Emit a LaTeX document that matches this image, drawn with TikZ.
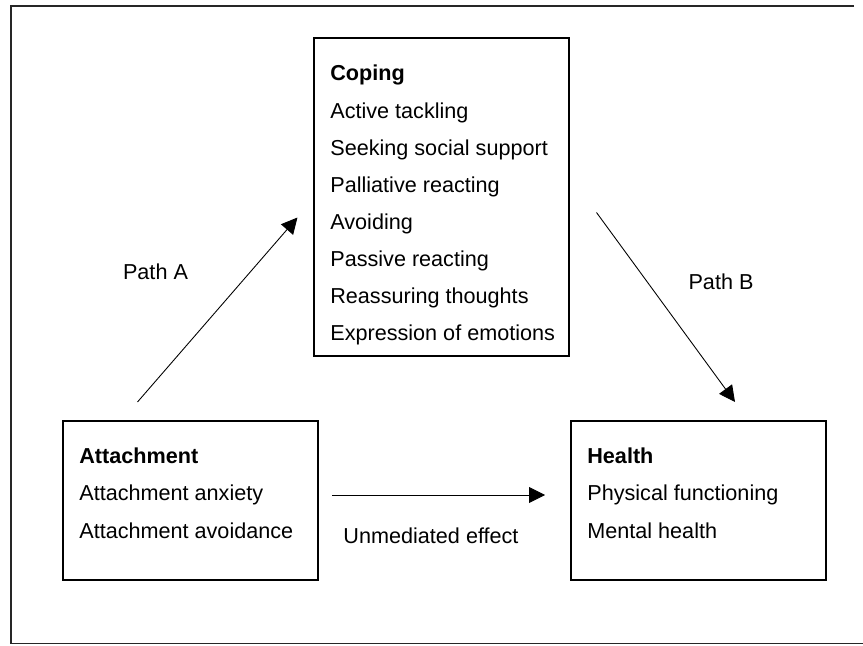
\documentclass[tikz,border=0pt]{standalone}
\usepackage{fontspec}
\setmainfont{Liberation Sans}
\usetikzlibrary{arrows.meta}

\tikzset{
  box/.style={draw, line width=0.6pt, minimum width=5.1cm, inner sep=0pt},
  item/.style={anchor=base west, inner sep=0pt, font=\fontsize{12.3}{14}\selectfont},
  head/.style={item, font=\fontsize{12.3}{14}\selectfont\bfseries},
  label/.style={anchor=base, inner sep=0pt, font=\fontsize{12.3}{14}\selectfont},
  effect/.style={-{Triangle[length=3.2mm,width=3.2mm]}, line width=0.5pt},
}

\begin{document}
\begin{tikzpicture}
  \useasboundingbox (0,0) rectangle (17.26,12.9);
  % frame (open on the right)
  \draw[line width=0.8pt, black!85] (17.08,12.78) -- (0.22,12.78) -- (0.22,0.03) -- (17.26,0.03);

  % the three boxes
  \node[box, minimum height=6.36cm] (coping) at (8.83,8.96) {};
  \node[box, minimum height=3.18cm] (attach) at (3.81,2.89) {};
  \node[box, minimum height=3.18cm] (health) at (13.97,2.89) {};

  % box contents
  \node[head] (coping-head) at (6.60,11.28) {Coping};
  \foreach \txt [count=\i] in {Active tackling, Seeking social support,
      Palliative reacting, Avoiding, Passive reacting, Reassuring thoughts,
      Expression of emotions}
    \node[item] (coping-\i) at (6.60,{11.28-0.742*\i}) {\txt};

  \node[head] (attach-head) at (1.58,3.62) {Attachment};
  \node[item] (attach-1) at (1.58,2.88) {Attachment anxiety};
  \node[item] (attach-2) at (1.58,2.14) {Attachment avoidance};

  \node[head] (health-head) at (11.74,3.62) {Health};
  \node[item] (health-1) at (11.74,2.88) {Physical functioning};
  \node[item] (health-2) at (11.74,2.14) {Mental health};

  % arrow ends
  \coordinate (a-from) at (2.75,4.86);
  \coordinate (a-to) at (5.95,8.55);
  \coordinate (b-from) at (11.93,8.65);
  \coordinate (b-to) at (14.70,4.86);
  \coordinate (c-from) at (6.64,3.00);
  \coordinate (c-to) at (10.90,3.00);

  \draw[effect] (a-from) -- (a-to);
  \draw[effect] (b-from) -- (b-to);
  \draw[effect] (c-from) -- (c-to);

  \node[label] (path-a) at (3.11,7.30) {Path A};
  \node[label] (path-b) at (14.42,7.10) {Path B};
  \node[label] (unmediated) at (8.62,2.02) {Unmediated effect};
\end{tikzpicture}
\end{document}
